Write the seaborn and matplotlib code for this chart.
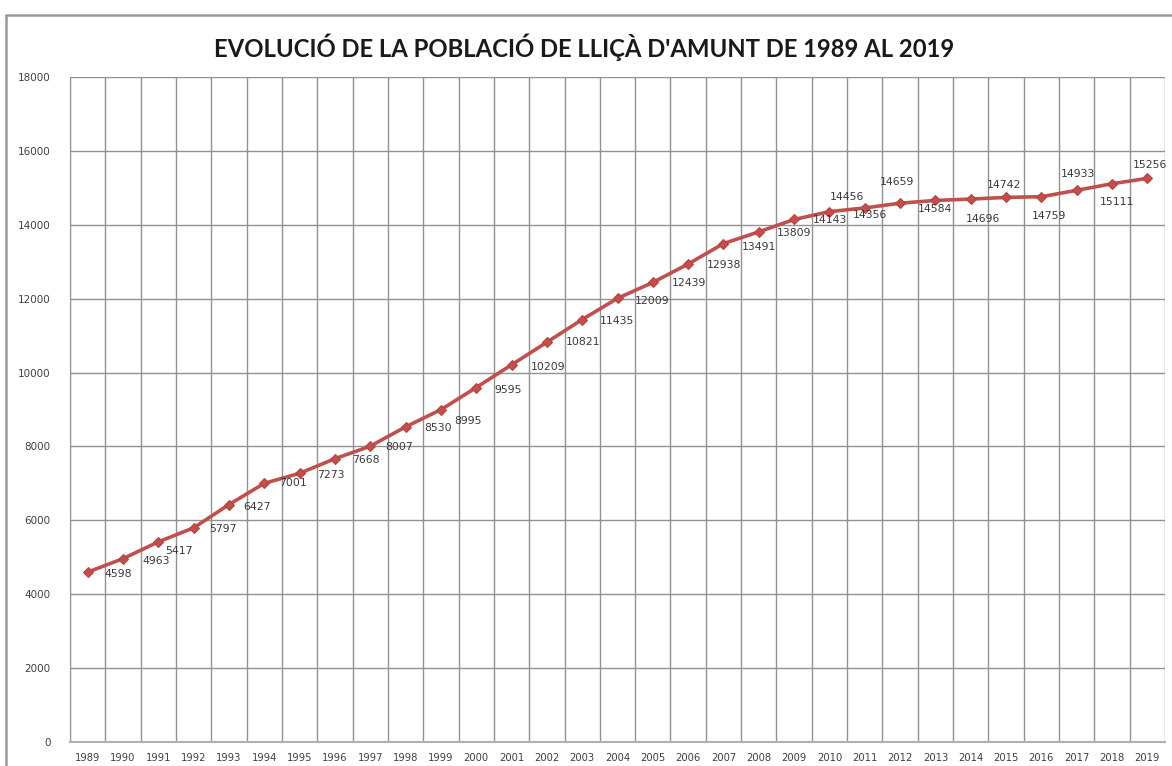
import matplotlib
matplotlib.use("Agg")
import matplotlib.pyplot as plt
import seaborn as sns
import pandas as pd
from matplotlib.patches import Rectangle

sns.set_style("white")
plt.rcParams['font.family'] = ['DejaVu Sans']

# Data
years = list(range(1989, 2020))
population = [4598, 4963, 5417, 5797, 6427, 7001, 7273, 7668, 8007, 8530,
              8995, 9595, 10209, 10821, 11435, 12009, 12439, 12938, 13491, 13809,
              14143, 14356, 14456, 14584, 14659, 14696, 14742, 14759, 14933, 15111,
              15256]
title = "EVOLUCIÓ DE LA POBLACIÓ DE LLIÇÀ D'AMUNT DE 1989 AL 2019"

# label offsets in pixels (dx right, dy down) as placed in the original chart
label_offsets = [(31, 2), (33, 2), (21, 9), (29, 1), (28, 2), (29, 0), (31, 2), (31, 1),
                 (29, 1), (32, 1), (27, 11), (32, 2), (37, 2), (36, 0), (35, 1), (35, 3),
                 (36, 1), (36, 1), (36, 3), (35, 1), (36, 1), (41, 3), (-18, -11), (35, 6),
                 (-38, -18), (12, 20), (-2, -12), (8, 19), (1, -16), (5, 18), (3, -13)]

df = pd.DataFrame({"year": years, "population": population})

fig = plt.figure(figsize=(11.72, 7.66), dpi=100)
ax = fig.add_axes([70 / 1172, 1 - 742 / 766, 1095 / 1172, 665 / 766])

grid_col = "#929292"
# vertical gridlines between categories
for b in range(len(years) + 1):
    ax.axvline(years[0] - 0.5 + b, color=grid_col, lw=1.0, zorder=0)
ax.set_yticks(range(0, 18001, 2000))
ax.yaxis.grid(True, color=grid_col, lw=1.0)
ax.set_axisbelow(True)

sns.lineplot(data=df, x="year", y="population", ax=ax, color="#c0504d",
             lw=2.6, marker="D", markersize=5.5, markeredgecolor="#b8403d",
             markerfacecolor="#c0504d", zorder=3)

for (yr, val), (dx, dy) in zip(zip(years, population), label_offsets):
    ax.annotate(str(val), (yr, val), xytext=(dx, -dy), textcoords="offset pixels",
                ha="center", va="center", fontsize=7.8, color="#3a3a3a", zorder=4)

ax.set_xlim(years[0] - 0.5, years[-1] + 0.5)
ax.set_ylim(0, 18000)
ax.set_xticks(years)
ax.set_xticklabels([str(y) for y in years], fontsize=7.2, color="#404040")
ax.set_xticks([years[0] - 0.5 + b for b in range(len(years) + 1)], minor=True)
ax.tick_params(axis="x", which="major", length=0, pad=8)
ax.tick_params(axis="x", which="minor", length=5, color=grid_col, direction="out")
ax.tick_params(axis="y", length=6, color=grid_col, labelsize=7.5, labelcolor="#404040", pad=8)
ax.set_xlabel("")
ax.set_ylabel("")
for s in ["top", "right"]:
    ax.spines[s].set_visible(False)
ax.spines["left"].set_color(grid_col)
ax.spines["bottom"].set_color("#b0b0b0")
ax.spines["bottom"].set_linewidth(1.5)

fig.text(584 / 1172, 1 - 47 / 766, title, ha="center", va="center",
         fontsize=17.2, fontweight="bold", family="Lato", color="#1a1a1a")

# outer chart border
fig.patches.append(Rectangle((6 / 1172, -0.05), 1.1, 1 - 15 / 766 + 0.05,
                             transform=fig.transFigure, fill=False,
                             edgecolor="#9a9a9a", lw=1.8))

fig.savefig("out.png", dpi=100)
